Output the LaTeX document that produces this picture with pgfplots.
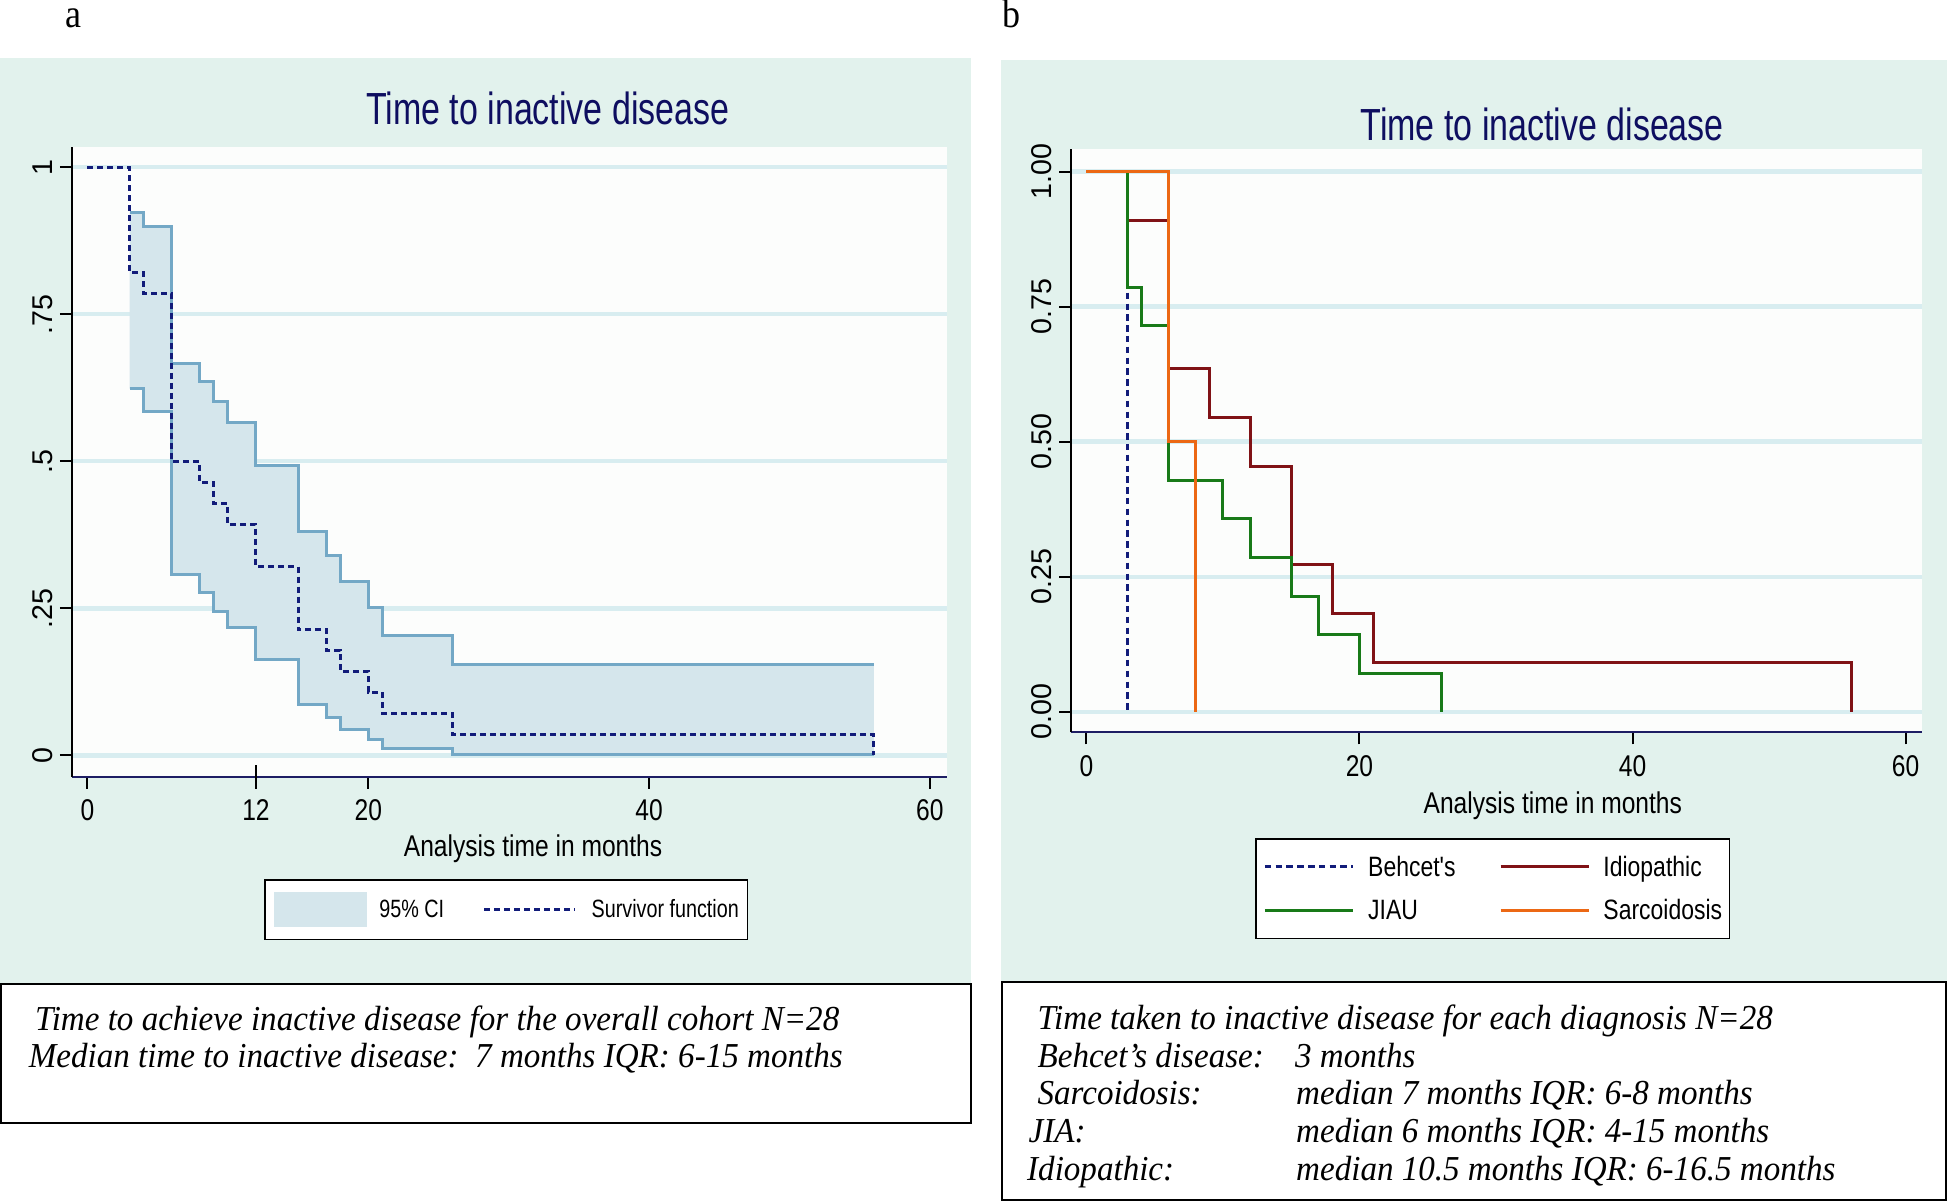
\documentclass[border=0pt]{standalone}
\usepackage{pgfplots}
\pgfplotsset{compat=1.18}
\usepackage{fontspec}
\setmainfont{Liberation Serif}
\newfontfamily\titlefont[FakeStretch=0.755]{Liberation Sans}
\newfontfamily\labfont[FakeStretch=0.82]{Liberation Sans}
\newfontfamily\legfont[FakeStretch=0.79]{Liberation Sans}
\newfontfamily\ylabfont{Liberation Sans}
\newfontfamily\boxfont[FakeStretch=0.945]{Liberation Serif}
\newfontfamily\panelfont[FakeStretch=0.9]{Liberation Serif}

\definecolor{panelbg}{RGB}{226,242,237}
\definecolor{plotbg}{RGB}{252,253,252}
\definecolor{gridc}{RGB}{216,237,240}
\definecolor{cifill}{RGB}{213,230,236}
\definecolor{cline}{RGB}{115,168,198}
\definecolor{navyc}{RGB}{18,28,122}
\definecolor{titlec}{RGB}{14,14,96}
\definecolor{axnavy}{RGB}{30,30,100}
\definecolor{maroonc}{RGB}{128,18,22}
\definecolor{greenc}{RGB}{24,122,24}
\definecolor{orangec}{RGB}{236,104,20}

\pgfplotsset{
  cileg/.style={legend image code/.code={\fill[cifill] (0pt,-17.2pt) rectangle (93.7pt,17.2pt);}},
  survleg/.style={legend image code/.code={\draw[navyc,line width=3pt,dash pattern=on 6pt off 4pt] (0pt,0pt) -- (91pt,0pt);}},
  rline/.style={legend image code/.code={\draw[##1] (0pt,0pt) -- (88.4pt,0pt);}},
  kmbase/.style={
    scale only axis, anchor=south west,
    axis x line=bottom, axis y line=left,
    x axis line style={-, draw=axnavy, line width=2.2pt},
    y axis line style={-, draw=black, line width=2pt},
    axis background/.style={fill=plotbg},
    tick align=outside, major tick length=12pt,
    tick style={line width=2pt, black},
    ymajorgrids, grid style={line width=4.5pt, draw=gridc},
    ytick={0,0.25,0.5,0.75,1},
    xticklabel style={font=\labfont\fontsize{30}{36}\selectfont, anchor=base},
    xticklabel shift=32pt,
    yticklabel style={font=\ylabfont\fontsize{28.6}{34}\selectfont, rotate=90, anchor=center},
    yticklabel shift=17.2pt,
    xlabel={Analysis time in months},
    title={Time to inactive disease},
    legend cell align=left,
  },
}

\begin{document}
\begin{tikzpicture}
\path[use as bounding box] (0,0) rectangle (1947pt,-1201pt);
\fill[panelbg] (0pt,-58pt) rectangle (971pt,-984pt);
\fill[panelbg] (1001pt,-60pt) rectangle (1947pt,-982pt);

% ---------------- panel a ----------------
\begin{axis}[kmbase,
  at={(72pt,-776.7pt)}, width=874.9pt, height=630.1pt,
  xmin=-1.10, xmax=61.21, ymin=-0.0364, ymax=1.035,
  xtick={0,12,20,40,60}, xticklabels={0,12,20,40,60},
  yticklabels={0,.25,.5,.75,1},
  extra x ticks={12}, extra x tick labels={},
  extra x tick style={tick align=center, major tick length=23pt},
  xlabel style={at={(axis description cs:0.527,-0.127)}, anchor=base, font=\labfont\fontsize{30}{36}\selectfont},
  title style={at={(axis description cs:0.5438,1.0352)}, anchor=base, yshift=-6pt, font=\titlefont\fontsize{45}{54}\selectfont, text=titlec},
  legend columns=2,
  legend style={at={(0.22,-0.1624)}, anchor=north west, draw=black, line width=1.5pt, fill=white,
    inner xsep=8.5pt, inner ysep=12.7pt, font=\legfont\fontsize{25}{30}\selectfont,
    nodes={inner sep=0pt},
    /tikz/column 1/.style={column sep=12pt},
    /tikz/column 2/.style={column sep=38.5pt},
    /tikz/column 3/.style={column sep=15pt}},
]
\addplot[fill=cifill, draw=none, cileg] coordinates {
 (3,0.923) (4,0.923) (4,0.899) (6,0.899) (6,0.666) (8,0.666) (8,0.635) (9,0.635)
 (9,0.601) (10,0.601) (10,0.566) (12,0.566) (12,0.493) (15,0.493) (15,0.380) (17,0.380)
 (17,0.339) (18,0.339) (18,0.296) (20,0.296) (20,0.251) (21,0.251) (21,0.203) (26,0.203)
 (26,0.154) (56,0.154)
 (56,0.001) (26,0.001) (26,0.012) (21,0.012) (21,0.027) (20,0.027) (20,0.044) (18,0.044)
 (18,0.065) (17,0.065) (17,0.087) (15,0.087) (15,0.1625) (12,0.1625) (12,0.217) (10,0.217)
 (10,0.245) (9,0.245) (9,0.277) (8,0.277) (8,0.308) (6,0.308) (6,0.584) (4,0.584)
 (4,0.623) (3,0.623)} -- cycle;
\addlegendentry{95\% CI}
\addplot[const plot, draw=cline, line width=3pt, forget plot] coordinates {
 (3,0.923) (4,0.899) (6,0.666) (8,0.635) (9,0.601) (10,0.566) (12,0.493) (15,0.380)
 (17,0.339) (18,0.296) (20,0.251) (21,0.203) (26,0.154) (56,0.154)};
\addplot[const plot, draw=cline, line width=3pt, forget plot] coordinates {
 (3,0.623) (4,0.584) (6,0.308) (8,0.277) (9,0.245) (10,0.217) (12,0.1625) (15,0.087)
 (17,0.065) (18,0.044) (20,0.027) (21,0.012) (26,0.001) (56,0.001)};
\addplot[const plot, draw=navyc, line width=3pt, dash pattern=on 6pt off 4pt, survleg] coordinates {
 (0,1) (3,0.8214) (4,0.7857) (6,0.5) (8,0.4643) (9,0.4286) (10,0.3929) (12,0.3214)
 (15,0.2143) (17,0.1786) (18,0.1429) (20,0.1071) (21,0.0714) (26,0.0357) (56,0)};
\addlegendentry{Survivor function}
\end{axis}

% ---------------- panel b ----------------
\begin{axis}[kmbase, rline,
  at={(1071.3pt,-732.3pt)}, width=850.7pt, height=583.3pt,
  xmin=-1.105, xmax=61.2, ymin=-0.038, ymax=1.042,
  xtick={0,20,40,60}, xticklabels={0,20,40,60},
  yticklabels={0.00,0.25,0.50,0.75,1.00},
  xlabel style={at={(axis description cs:0.566,-0.1389)}, anchor=base, font=\labfont\fontsize{30}{36}\selectfont},
  title style={at={(axis description cs:0.5535,1.015)}, anchor=base, yshift=-6pt, font=\titlefont\fontsize{45}{54}\selectfont, text=titlec},
  legend columns=2,
  legend style={at={(0.216,-0.1812)}, anchor=north west, draw=black, line width=1.5pt, fill=white,
    inner xsep=7.5pt, inner ysep=17pt, font=\labfont\fontsize{28}{34}\selectfont,
    nodes={inner sep=0pt}, row sep=22pt,
    /tikz/column 1/.style={column sep=13.5pt},
    /tikz/column 2/.style={column sep=43.5pt},
    /tikz/column 3/.style={column sep=13pt}},
]
\addplot[const plot, draw=navyc, line width=3pt, dash pattern=on 6.5pt off 4.3pt] coordinates {(0,1) (3,1) (3,0)};
\addlegendentry{Behcet's}
\addplot[const plot, draw=maroonc, line width=3pt] coordinates {
 (0,1) (3,0.9091) (6,0.6364) (9,0.5455) (12,0.4545) (15,0.2727) (18,0.1818) (21,0.0909) (56,0)};
\addlegendentry{Idiopathic}
\addplot[const plot, draw=greenc, line width=3pt] coordinates {
 (0,1) (3,0.7857) (4,0.7143) (6,0.4286) (10,0.3571) (12,0.2857) (15,0.2143) (17,0.1429) (20,0.0714) (26,0)};
\addlegendentry{JIAU}
\addplot[const plot, draw=orangec, line width=3pt] coordinates {(0,1) (6,0.5) (8,0)};
\addlegendentry{Sarcoidosis}
\end{axis}

% ---------------- labels and text boxes ----------------
\node[anchor=base west, inner sep=0pt, font=\panelfont\fontsize{40}{44}\selectfont] at (65pt,-27.6pt) {a};
\node[anchor=base west, inner sep=0pt, font=\panelfont\fontsize{40}{44}\selectfont] at (1002pt,-27.6pt) {b};

\draw[black, line width=2pt, fill=white] (1pt,-984pt) rectangle (970.5pt,-1123pt);
\begin{scope}[every node/.style={anchor=base west, inner sep=0pt, font=\boxfont\itshape\fontsize{35}{42}\selectfont}]
\node at (35pt,-1030pt) {Time to achieve inactive disease for the overall cohort N=28};
\node at (28.6pt,-1067.3pt) {Median time to inactive disease:\ \ 7 months IQR: 6-15 months};
\end{scope}

\draw[black, line width=2pt, fill=white] (1002pt,-982pt) rectangle (1946pt,-1199.5pt);
\begin{scope}[every node/.style={anchor=base west, inner sep=0pt, font=\boxfont\itshape\fontsize{35}{42}\selectfont}]
\node at (1037.4pt,-1029.5pt) {Time taken to inactive disease for each diagnosis N=28};
\node at (1037.4pt,-1067.2pt) {Behcet’s disease:};
\node at (1295pt,-1067.2pt) {3 months};
\node at (1037.4pt,-1104.9pt) {Sarcoidosis:};
\node at (1296pt,-1104.9pt) {median 7 months IQR: 6-8 months};
\node at (1028.4pt,-1142.6pt) {JIA:};
\node at (1296pt,-1142.6pt) {median 6 months IQR: 4-15 months};
\node at (1027pt,-1180.3pt) {Idiopathic:};
\node at (1296pt,-1180.3pt) {median 10.5 months IQR: 6-16.5 months};
\end{scope}
\end{tikzpicture}
\end{document}
